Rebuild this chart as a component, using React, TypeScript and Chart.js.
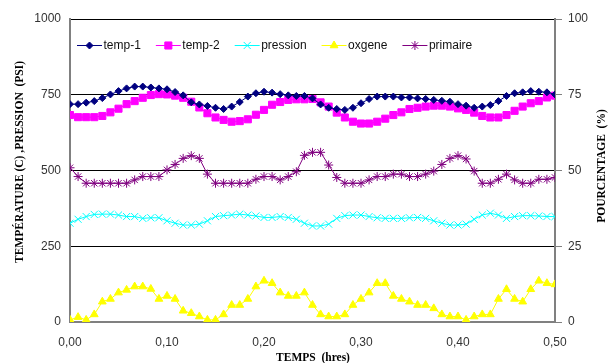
import React, { useEffect, useRef } from 'react';
import { Chart, registerables } from 'chart.js';
import { drawPoint } from 'chart.js/helpers';

Chart.register(...registerables);

// sampling interval of the recorded series, in hours (30 s)
const SAMPLE_STEP_HRS = 0.5 / 60;

// left axis (°C / PSI)
const temp1 = [
  719, 719, 724, 729, 739, 751, 762, 771, 777, 777,
  774, 771, 768, 759, 748, 725, 718, 713, 707, 703,
  711, 726, 744, 755, 760, 757, 752, 748, 746, 746,
  738, 718, 707, 703, 700, 707, 722, 736, 744, 744,
  744, 741, 741, 738, 736, 733, 730, 727, 719, 714,
  707, 711, 716, 729, 746, 755, 758, 762, 760, 758,
  751,
];
const temp2 = [
  683, 676, 676, 676, 680, 692, 704, 719, 729, 740,
  749, 752, 751, 747, 740, 727, 708, 689, 675, 667,
  661, 663, 669, 684, 700, 717, 726, 733, 735, 735,
  736, 725, 711, 691, 675, 661, 655, 655, 661, 671,
  683, 692, 703, 707, 711, 714, 714, 711, 705, 700,
  691, 680, 675, 675, 683, 697, 711, 722, 729, 741,
  747,
];
const pression = [
  326, 339, 348, 355, 356, 356, 353, 348, 348, 342,
  344, 344, 334, 326, 320, 320, 323, 334, 348, 351,
  353, 356, 353, 350, 345, 345, 348, 345, 339, 326,
  317, 317, 323, 342, 351, 353, 353, 348, 344, 342,
  342, 342, 344, 345, 342, 334, 326, 320, 320, 323,
  339, 353, 359, 353, 342, 348, 351, 351, 350, 348,
  348,
];
// right axis (%)
const oxgene = [
  0.7, 1.6, 0.7, 2.5, 6.7, 7.6, 9.7, 10.6, 11.7, 11.7,
  10.9, 7.6, 8.6, 7.6, 3.7, 2.9, 1.8, 0.7, 0.7, 2.5,
  5.6, 5.6, 7.6, 11.7, 13.6, 12.8, 9.7, 8.6, 8.6, 9.7,
  5.6, 2.5, 1.8, 1.8, 2.5, 5.6, 7.6, 9.7, 12.8, 12.8,
  8.6, 7.6, 6.7, 5.6, 5.6, 4.5, 2.5, 1.8, 1.8, 0.7,
  1.8, 2.5, 2.5, 7.6, 10.8, 7.6, 6.7, 10.8, 13.6, 12.8,
  12.4,
];
const primaire = [
  50.9, 48.0, 45.8, 45.8, 45.8, 45.8, 45.8, 45.8, 46.9, 48.0,
  48.0, 48.0, 50.2, 52.0, 54.0, 54.9, 54.0, 48.8, 45.8, 45.8,
  45.8, 45.8, 45.8, 47.1, 48.0, 48.0, 46.9, 48.0, 49.6, 55.0,
  56.0, 56.0, 51.8, 47.7, 45.8, 45.8, 45.8, 46.9, 48.0, 48.0,
  48.8, 48.8, 48.0, 48.0, 48.8, 49.8, 52.0, 54.0, 54.9, 53.8,
  49.8, 45.8, 45.8, 47.1, 48.8, 46.9, 45.8, 45.8, 47.1, 47.1,
  47.7,
];

const seriesLabels = ['temp-1', 'temp-2', 'pression', 'oxgene', 'primaire'];
const leftTicks = [0, 250, 500, 750, 1000];
const rightTicks = [0, 25, 50, 75, 100];
const xTicks = [0, 0.1, 0.2, 0.3, 0.4, 0.5];

const leftTitle = 'TEMPÉRATURE (C) ,PRESSION  (PSI)';
const rightTitle = 'POURCENTAGE  (%)';
const xTitle = 'TEMPS  (hres)';

const toPoints = (arr: number[]) => arr.map((v, i) => ({ x: i * SAMPLE_STEP_HRS, y: v }));

const SANS = '"Liberation Sans", Arial, sans-serif';
const SERIF = '"Liberation Serif", "Times New Roman", serif';

const overlayPlugin = {
  id: 'overlay',
  afterDraw(chart: any) {
    const ctx = chart.ctx as CanvasRenderingContext2D;
    ctx.save();
    // legend inside plot
    let x = 77;
    const y = 45;
    ctx.font = '12px ' + SANS;
    ctx.textAlign = 'left';
    ctx.textBaseline = 'middle';
    chart.data.datasets.forEach((ds: any) => {
      ctx.strokeStyle = ds.borderColor;
      ctx.lineWidth = 1;
      ctx.beginPath();
      ctx.moveTo(x, y + 0.5);
      ctx.lineTo(x + 25, y + 0.5);
      ctx.stroke();
      ctx.fillStyle = ds.backgroundColor;
      ctx.strokeStyle = ds.borderColor;
      ctx.lineWidth = 1;
      drawPoint(ctx, { pointStyle: ds.pointStyle, radius: ds.pointRadius, rotation: 0, borderWidth: 1 } as any, x + 12.5, y + 0.5);
      ctx.fillStyle = '#111';
      ctx.fillText(ds.label, x + 26.5, y + 1);
      x += 26.5 + ctx.measureText(ds.label).width + 15;
    });
    // axis titles
    ctx.font = 'bold 11.5px ' + SERIF;
    ctx.fillStyle = '#000';
    ctx.textAlign = 'center';
    ctx.textBaseline = 'middle';
    ctx.save();
    ctx.translate(20, 162);
    ctx.rotate(-Math.PI / 2);
    ctx.fillText(leftTitle, 0, 0);
    ctx.restore();
    ctx.save();
    ctx.translate(602, 166);
    ctx.rotate(-Math.PI / 2);
    ctx.fillText(rightTitle, 0, 0);
    ctx.restore();
    ctx.fillText(xTitle, 313, 358);
    ctx.restore();
  },
};

export default function App() {
  const ref = useRef<HTMLCanvasElement | null>(null);
  useEffect(() => {
    if (!ref.current) return;
    const mk = (label: string, data: number[], color: string, style: string, radius: number, axis: string) => ({
      label,
      data: toPoints(data),
      yAxisID: axis,
      borderColor: color,
      backgroundColor: color,
      borderWidth: 1,
      pointStyle: style,
      pointRadius: radius,
      pointBorderWidth: 1,
      pointBackgroundColor: color,
      pointBorderColor: color,
      tension: 0,
      fill: false,
    });
    const chart = new Chart(ref.current, {
      type: 'line',
      data: {
        datasets: [
          mk(seriesLabels[0], temp1, '#000080', 'rectRot', 3.5, 'y'),
          mk(seriesLabels[1], temp2, '#FF00FF', 'rect', 5, 'y'),
          mk(seriesLabels[2], pression, '#00FFFF', 'crossRot', 5, 'y'),
          mk(seriesLabels[3], oxgene, '#FFFF00', 'triangle', 4.5, 'y1'),
          mk(seriesLabels[4], primaire, '#800080', 'star', 4.5, 'y1'),
        ] as any,
      },
      options: {
        responsive: false,
        animation: false,
        devicePixelRatio: 1,
        layout: { padding: { top: 19, left: 0, right: 0, bottom: 0 } },
        plugins: { legend: { display: false }, tooltip: { enabled: false } },
        scales: {
          x: {
            type: 'linear',
            min: xTicks[0],
            max: xTicks[xTicks.length - 1],
            afterBuildTicks: (s: any) => { s.ticks = xTicks.map((v) => ({ value: v })); },
            afterFit: (s: any) => { s.height = 41; },
            grid: { display: false, drawTicks: false },
            border: { display: true, color: '#808080', width: 2 },
            ticks: {
              padding: 13,
              color: '#333',
              font: { family: SANS, size: 12 },
              callback: (v: any) => Number(v).toFixed(2).replace('.', ','),
              maxRotation: 0,
            },
          },
          y: {
            position: 'left',
            min: leftTicks[0],
            max: leftTicks[leftTicks.length - 1],
            afterBuildTicks: (s: any) => { s.ticks = leftTicks.map((v) => ({ value: v })); },
            afterFit: (s: any) => { s.width = 70; },
            grid: {
              drawTicks: false,
              color: (c: any) => (c.tick && c.tick.value === 0 ? 'rgba(0,0,0,0)' : '#000'),
              lineWidth: 1,
            },
            border: { display: true, color: '#808080', width: 2 },
            ticks: { padding: 9, color: '#333', font: { family: SANS, size: 12 }, callback: (v: any) => String(v) },
          },
          y1: {
            position: 'right',
            min: rightTicks[0],
            max: rightTicks[rightTicks.length - 1],
            afterBuildTicks: (s: any) => { s.ticks = rightTicks.map((v) => ({ value: v })); },
            afterFit: (s: any) => { s.width = 55; },
            grid: { drawOnChartArea: false, drawTicks: true, tickLength: 7, color: '#808080', lineWidth: 1 },
            border: { display: true, color: '#808080', width: 2 },
            ticks: { padding: 6, color: '#333', font: { family: SANS, size: 12 }, callback: (v: any) => String(v) },
          },
        },
      } as any,
      plugins: [overlayPlugin],
    });
    return () => chart.destroy();
  }, []);
  return (
    <div style={{ position: 'fixed', left: 0, top: 0, width: 610, height: 363, background: '#fff' }}>
      <canvas ref={ref} width={610} height={363} />
    </div>
  );
}
